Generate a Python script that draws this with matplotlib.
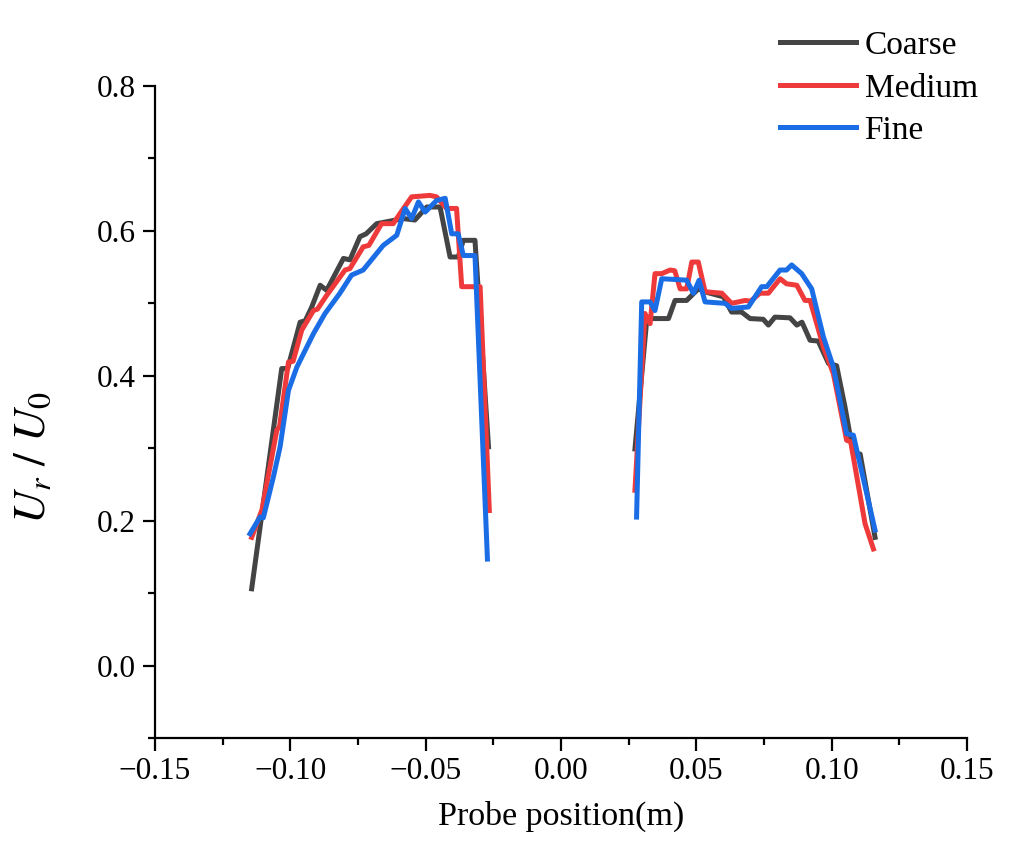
import matplotlib
matplotlib.use("Agg")
import matplotlib.pyplot as plt
from matplotlib.ticker import MultipleLocator, FuncFormatter

plt.rcParams['font.family'] = ['Liberation Serif', 'DejaVu Serif']
plt.rcParams['mathtext.fontset'] = 'stix'

# ---- data ----
coarse_left_x = [-0.1143, -0.1032, -0.1010, -0.0964, -0.0945, -0.0921, -0.0890, -0.0866, -0.0804, -0.0780,
                 -0.0743, -0.0720, -0.0681, -0.0583, -0.0540, -0.0496, -0.0447, -0.0410, -0.0380, -0.0361,
                 -0.0318, -0.0268]
coarse_left_y = [0.106, 0.410, 0.410, 0.474, 0.476, 0.495, 0.525, 0.518, 0.562, 0.560,
                 0.592, 0.596, 0.610, 0.617, 0.615, 0.633, 0.633, 0.564, 0.564, 0.587,
                 0.587, 0.302]
coarse_right_x = [0.0273, 0.0317, 0.0397, 0.0421, 0.0464, 0.0507, 0.0540, 0.0580, 0.0600, 0.0630,
                  0.0667, 0.0698, 0.0747, 0.0766, 0.0790, 0.0846, 0.0871, 0.0890, 0.0920, 0.0950,
                  0.0988, 0.1018, 0.1049, 0.1080, 0.1105, 0.1160]
coarse_right_y = [0.299, 0.479, 0.479, 0.504, 0.504, 0.520, 0.515, 0.511, 0.509, 0.488,
                  0.488, 0.479, 0.478, 0.470, 0.481, 0.480, 0.470, 0.474, 0.449, 0.448,
                  0.417, 0.414, 0.357, 0.292, 0.292, 0.177]

medium_left_x = [-0.1143, -0.1105, -0.1050, -0.1040, -0.1007, -0.0990, -0.0958, -0.0915, -0.0900, -0.0866,
                 -0.0798, -0.0780, -0.0731, -0.0710, -0.0663, -0.0620, -0.0595, -0.0552, -0.0484, -0.0460,
                 -0.0423, -0.0386, -0.0367, -0.0299, -0.0265]
medium_left_y = [0.177, 0.215, 0.325, 0.330, 0.419, 0.420, 0.463, 0.490, 0.492, 0.511,
                 0.546, 0.548, 0.578, 0.580, 0.610, 0.610, 0.624, 0.647, 0.649, 0.647,
                 0.631, 0.631, 0.523, 0.523, 0.214]
medium_right_x = [0.0273, 0.0310, 0.0329, 0.0347, 0.0372, 0.0403, 0.0420, 0.0440, 0.0464, 0.0483,
                  0.0507, 0.0532, 0.0594, 0.0630, 0.0680, 0.0700, 0.0735, 0.0766, 0.0809, 0.0833,
                  0.0871, 0.0901, 0.0920, 0.0969, 0.1006, 0.1055, 0.1070, 0.1123, 0.1154]
medium_right_y = [0.242, 0.486, 0.472, 0.541, 0.541, 0.546, 0.545, 0.520, 0.520, 0.557,
                  0.557, 0.516, 0.514, 0.500, 0.504, 0.503, 0.514, 0.514, 0.534, 0.527,
                  0.525, 0.504, 0.504, 0.440, 0.403, 0.311, 0.309, 0.196, 0.161]

fine_left_x = [-0.1149, -0.1112, -0.1100, -0.1063, -0.1038, -0.1007, -0.0976, -0.0915, -0.0872, -0.0817,
               -0.0774, -0.0731, -0.0657, -0.0607, -0.0576, -0.0552, -0.0527, -0.0502, -0.0460, -0.0428,
               -0.0404, -0.0380, -0.0361, -0.0318, -0.0272]
fine_left_y = [0.182, 0.205, 0.204, 0.260, 0.302, 0.380, 0.412, 0.458, 0.486, 0.514,
               0.539, 0.546, 0.580, 0.594, 0.631, 0.617, 0.640, 0.626, 0.642, 0.645,
               0.596, 0.596, 0.566, 0.566, 0.147]
fine_right_x = [0.0279, 0.0298, 0.0329, 0.0347, 0.0372, 0.0464, 0.0489, 0.0510, 0.0532, 0.0606,
                0.0630, 0.0692, 0.0741, 0.0760, 0.0809, 0.0833, 0.0852, 0.0889, 0.0926, 0.0969,
                0.1006, 0.1055, 0.1080, 0.1160]
fine_right_y = [0.205, 0.502, 0.502, 0.490, 0.534, 0.532, 0.514, 0.532, 0.502, 0.500,
                0.493, 0.495, 0.523, 0.523, 0.546, 0.546, 0.553, 0.541, 0.520, 0.454,
                0.412, 0.320, 0.318, 0.187]

labels = ['Coarse', 'Medium', 'Fine']
colors = ['#444444', '#ee3a3a', '#1b6de6']

fig = plt.figure(figsize=(10.10, 8.49), dpi=100)
ax = fig.add_axes([0.1535, 0.1307, 0.8040, 0.7680])

lw = 3.6
series = [
    (coarse_left_x, coarse_left_y, coarse_right_x, coarse_right_y),
    (medium_left_x, medium_left_y, medium_right_x, medium_right_y),
    (fine_left_x, fine_left_y, fine_right_x, fine_right_y),
]
handles = []
for (lx, ly, rx, ry), lab, c in zip(series, labels, colors):
    h, = ax.plot(lx, ly, color=c, lw=lw, label=lab, solid_joinstyle='round')
    ax.plot(rx, ry, color=c, lw=lw, solid_joinstyle='round')
    handles.append(h)

ax.set_xlim(-0.15, 0.15)
ax.set_ylim(-0.1, 0.8)
ax.spines['top'].set_visible(False)
ax.spines['right'].set_visible(False)
for s in ['left', 'bottom']:
    ax.spines[s].set_linewidth(1.6)

ax.xaxis.set_major_locator(MultipleLocator(0.05))
ax.xaxis.set_minor_locator(MultipleLocator(0.025))
ax.yaxis.set_major_locator(MultipleLocator(0.2))
ax.yaxis.set_minor_locator(MultipleLocator(0.1))
ax.xaxis.set_major_formatter(FuncFormatter(lambda v, p: f'{v:.2f}'.replace('-', '\u2212') if abs(v) > 1e-9 else '0.00'))
ax.yaxis.set_major_formatter(FuncFormatter(lambda v, p: f'{v:.1f}'.replace('-', '\u2212') if abs(v) > 1e-9 else '0.0'))
ax.tick_params(which='major', direction='out', length=9, width=1.6, labelsize=22.5, pad=5)
ax.tick_params(which='minor', direction='out', length=5, width=1.6)

ax.set_xlabel('Probe position(m)', fontsize=24.5, labelpad=10)
ax.set_ylabel(r'$U_r\ /\ U_0$', fontsize=33)
ax.yaxis.set_label_coords(-0.123, 0.43)

fig.legend(handles=handles, labels=labels, loc='upper right',
           bbox_to_anchor=(0.968, 0.964), frameon=False, fontsize=24,
           handlelength=2.3, handletextpad=0.25, labelspacing=0.36, borderaxespad=0,
           borderpad=0)

fig.savefig('out.png', dpi=100)
